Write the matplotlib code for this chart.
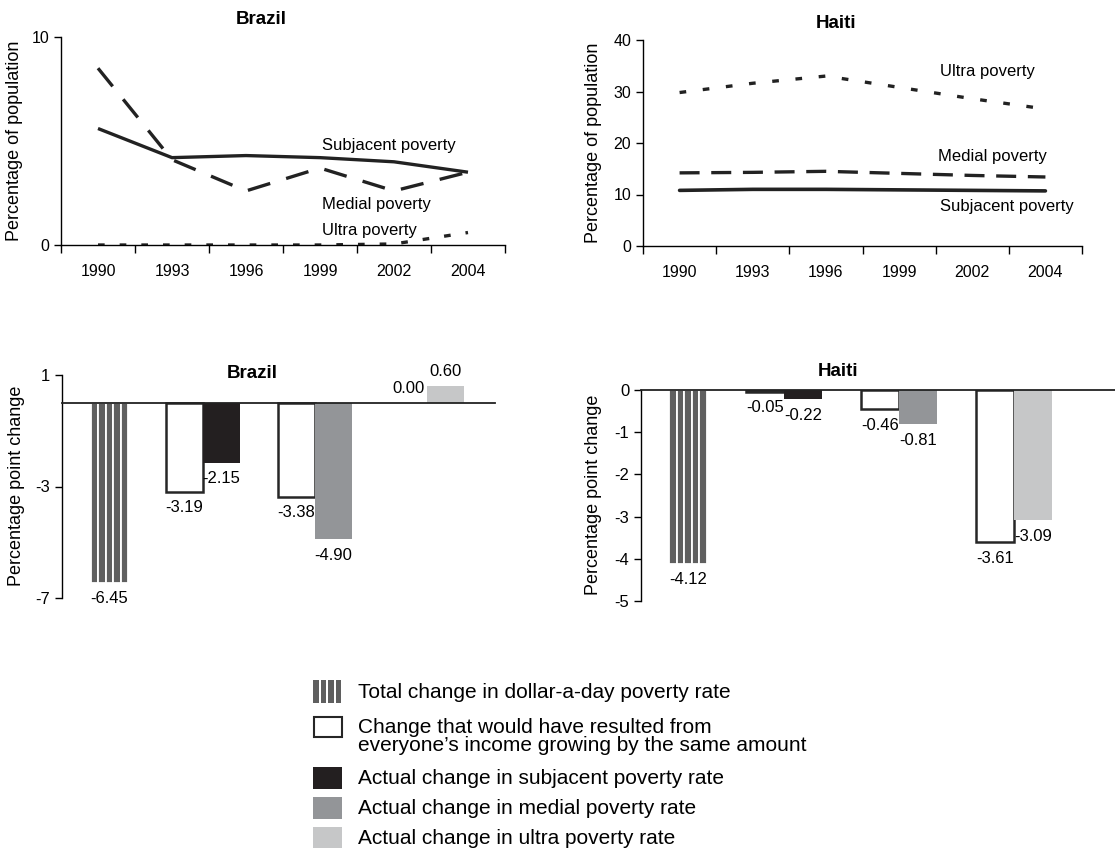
import numpy as np
import matplotlib
matplotlib.use('Agg')
import matplotlib.pyplot as plt
from matplotlib.patches import Rectangle

plt.rcParams['font.family'] = ['Liberation Sans', 'DejaVu Sans']

# line chart data (percentage of population)
years = ['1990', '1993', '1996', '1999', '2002', '2004']
brazil_subjacent = [5.6, 4.2, 4.3, 4.2, 4.0, 3.5]
brazil_medial = [8.5, 4.1, 2.6, 3.7, 2.6, 3.5]
brazil_ultra = [0.0, 0.0, 0.0, 0.0, 0.05, 0.6]
haiti_subjacent = [10.8, 11.0, 11.0, 10.9, 10.8, 10.7]
haiti_medial = [14.2, 14.3, 14.5, 14.1, 13.7, 13.4]
haiti_ultra = [29.8, 31.6, 33.0, 30.8, 28.6, 26.6]

# bar chart data (percentage point change)
brazil_total = -6.45
brazil_equal = [-3.19, -3.38, 0.00]
brazil_actual = [-2.15, -4.90, 0.60]
haiti_total = -4.12
haiti_equal = [-0.05, -0.46, -3.61]
haiti_actual = [-0.22, -0.81, -3.09]

legend_labels = [
    'Total change in dollar-a-day poverty rate',
    'Change that would have resulted from\neveryone\u2019s income growing by the same amount',
    'Actual change in subjacent poverty rate',
    'Actual change in medial poverty rate',
    'Actual change in ultra poverty rate',
]

c_total = '#5f5f5f'
c_sub = '#231f20'
c_med = '#939598'
c_ult = '#c6c7c8'
actual_colors = [c_sub, c_med, c_ult]

W, H = 1115, 849
fig = plt.figure(figsize=(11.15, 8.49), dpi=100)


def px_axes(left, top, right, bottom):
    return fig.add_axes([left / W, 1 - bottom / H, (right - left) / W, (bottom - top) / H])


def style_line_ax(ax, yticks):
    x = np.arange(len(years))
    ax.set_xlim(-0.5, len(years) - 0.5)
    ax.set_xticks(np.arange(len(years) + 1) - 0.5)
    ax.set_xticklabels([])
    ax.set_xticks(x, minor=True)
    ax.set_xticklabels(years, minor=True, fontsize=11.5)
    ax.tick_params(axis='x', which='major', length=6, width=1, direction='out')
    ax.tick_params(axis='x', which='minor', length=0, pad=14)
    ax.set_yticks(yticks)
    ax.tick_params(axis='y', length=5, width=1, labelsize=11.5)
    for s in ['top', 'right']:
        ax.spines[s].set_visible(False)
    for s in ['left', 'bottom']:
        ax.spines[s].set_linewidth(1)
    ax.set_ylim(yticks[0], yticks[-1])


# --- Brazil lines ---
ax1 = px_axes(61, 37, 505, 245)
xi = np.arange(len(years))
ax1.plot(xi, brazil_subjacent, color='#222222', lw=2.4, solid_capstyle='butt')
ax1.plot(xi, brazil_medial, color='#222222', lw=2.4, dashes=(7, 5))
ax1.plot(xi, brazil_ultra, color='#222222', lw=2.4, dashes=(2, 4.5))
style_line_ax(ax1, [0, 10])
ax1.text(3.03, 4.8, 'Subjacent poverty', fontsize=12, va='center')
ax1.text(3.03, 1.95, 'Medial poverty', fontsize=12, va='center')
ax1.text(3.03, 0.68, 'Ultra poverty', fontsize=12, va='center')
fig.text(261 / W, 1 - 20 / H, 'Brazil', fontsize=13.5, fontweight='bold', ha='center', va='center')
fig.text(15 / W, 1 - 141 / H, 'Percentage of population', fontsize=13, rotation=90, ha='center', va='center')

# --- Haiti lines ---
ax2 = px_axes(643, 40, 1082, 246)
ax2.plot(xi, haiti_subjacent, color='#222222', lw=2.6, solid_capstyle='round')
ax2.plot(xi, haiti_medial, color='#222222', lw=2.4, dashes=(6, 3.5))
ax2.plot(xi, haiti_ultra, color='#222222', lw=2.4, dashes=(2, 5))
style_line_ax(ax2, [0, 10, 20, 30, 40])
ax2.text(3.56, 33.8, 'Ultra poverty', fontsize=12, va='center')
ax2.text(3.53, 17.3, 'Medial poverty', fontsize=12, va='center')
ax2.text(3.56, 7.6, 'Subjacent poverty', fontsize=12, va='center')
fig.text(836 / W, 1 - 23 / H, 'Haiti', fontsize=13.5, fontweight='bold', ha='center', va='center')
fig.text(593 / W, 1 - 143 / H, 'Percentage of population', fontsize=13, rotation=90, ha='center', va='center')


def value_label(ax, x, v, below):
    if below:
        ax.annotate(f'{v:.2f}', (x, v), xytext=(0, -6), textcoords='offset points',
                    ha='center', va='top', fontsize=12)
    else:
        ax.annotate(f'{v:.2f}', (x, v), xytext=(0, 5), textcoords='offset points',
                    ha='center', va='bottom', fontsize=12)


def draw_bars(ax, total, equal, actual, yticks, ylim, xlim):
    w = 0.33
    # striped total bar: five thin bars in the second slot of group 0
    sub = w / 5
    offs = (np.arange(5) + 0.5) * sub
    ax.bar(offs, [total] * 5, width=sub, color=c_total, edgecolor='white', linewidth=1.3)
    value_label(ax, w / 2, total, True)
    g = np.arange(1, len(equal) + 1)
    eq_h = [v if v != 0 else np.nan for v in equal]
    ax.bar(g - w / 2, eq_h, width=w, facecolor='white', edgecolor='#262626', linewidth=1.8)
    ax.bar(g + w / 2, actual, width=w, color=actual_colors, linewidth=0)
    for x, v in zip(g - w / 2, equal):
        value_label(ax, x, v, v < 0)
    for x, v in zip(g + w / 2, actual):
        value_label(ax, x, v, v < 0)
    ax.axhline(0, color='#222222', lw=1.3, clip_on=False, zorder=5)
    ax.set_xlim(*xlim)
    ax.set_ylim(*ylim)
    ax.set_xticks([])
    ax.set_yticks(yticks)
    ax.set_yticklabels([str(t) for t in yticks])
    ax.tick_params(axis='y', length=5, width=1, labelsize=12)
    for s in ['top', 'right', 'bottom']:
        ax.spines[s].set_visible(False)
    ax.spines['left'].set_linewidth(1)


# --- Brazil bars ---
ax3 = px_axes(62, 375, 495, 598)
draw_bars(ax3, brazil_total, brazil_equal, brazil_actual, [1, -3, -7], (-7, 1), (-0.26, 3.61))
fig.text(252 / W, 1 - 373 / H, 'Brazil', fontsize=13.5, fontweight='bold', ha='center', va='center')
fig.text(17 / W, 1 - 486 / H, 'Percentage point change', fontsize=13, rotation=90, ha='center', va='center')

# --- Haiti bars ---
ax4 = px_axes(641, 390, 1115, 601)
draw_bars(ax4, haiti_total, haiti_equal, haiti_actual, [0, -1, -2, -3, -4, -5], (-5, 0), (-0.245, 3.88))
fig.text(838 / W, 1 - 372 / H, 'Haiti', fontsize=13.5, fontweight='bold', ha='center', va='center')
fig.text(593 / W, 1 - 495 / H, 'Percentage point change', fontsize=13, rotation=90, ha='center', va='center')


# --- legend (drawn by hand to keep the row spacing of the original) ---
def fig_rect(x0, y0, x1, y1, **kw):
    fig.add_artist(Rectangle((x0 / W, 1 - y1 / H), (x1 - x0) / W, (y1 - y0) / H,
                             transform=fig.transFigure, **kw))


# (top, bottom) of each key box, and text centre
key_rows = [(680, 703), (717, 737), (767, 789), (797, 819), (827, 848)]
text_rows = [692, 736.5, 778, 808, 838]
key_colors = [None, 'white', c_sub, c_med, c_ult]
for i, label in enumerate(legend_labels):
    y0, y1 = key_rows[i]
    if i == 0:
        for k in range(4):
            fig_rect(313 + k * 7.5, y0, 313 + k * 7.5 + 5.5, y1, facecolor=c_total, linewidth=0)
    elif i == 1:
        fig_rect(314, y0, 342, y1, facecolor='white', edgecolor='#262626', linewidth=1.5)
    else:
        fig_rect(313, y0, 342, y1, facecolor=key_colors[i], linewidth=0)
    fig.text(358 / W, 1 - text_rows[i] / H, label, fontsize=15, ha='left', va='center',
             linespacing=0.98)

fig.savefig('out.png', dpi=100)
